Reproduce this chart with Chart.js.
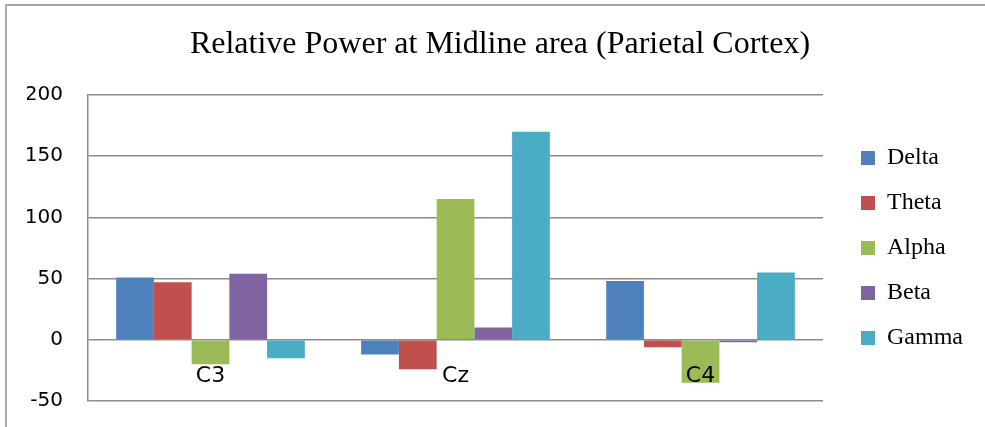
<!DOCTYPE html>
<html>
<head>
<meta charset="utf-8">
<script src="https://cdn.jsdelivr.net/npm/chart.js@4/dist/chart.umd.min.js"></script>
<style>
  html, body { margin: 0; padding: 0; background: #fff; }
</style>
</head>
<body>
<canvas id="chart" width="985" height="427"></canvas>
<script>
const categories = ['C3', 'Cz', 'C4'];
const delta = [51, -12, 48];
const theta = [47, -24, -6];
const alpha = [-20, 115, -35];
const beta = [54, 10, -2];
const gamma = [-15, 170, 55];
const yTicks = [-50, 0, 50, 100, 150, 200];

const gridGray = '#8c8c8c';

// outer frame of the chart object (only top and left edges show)
const framePlugin = {
    id: 'frame',
    beforeDraw(chart) {
        const ctx = chart.ctx;
        ctx.save();
        ctx.strokeStyle = gridGray;
        ctx.lineWidth = 1.5;
        ctx.beginPath();
        ctx.moveTo(6, chart.height);
        ctx.lineTo(6, 5);
        ctx.lineTo(chart.width, 5);
        ctx.stroke();
        ctx.restore();
    }
};

function series(label, data, color) {
    return { label: label, data: data, backgroundColor: color, borderWidth: 0 };
}

new Chart(document.getElementById('chart'), {
    type: 'bar',
    data: {
        labels: categories,
        datasets: [
            series('Delta', delta, '#4F81BD'),
            series('Theta', theta, '#C0504D'),
            series('Alpha', alpha, '#9BBB59'),
            series('Beta', beta, '#8064A2'),
            series('Gamma', gamma, '#4BACC6')
        ]
    },
    options: {
        responsive: false,
        animation: false,
        devicePixelRatio: 1,
        layout: { padding: { left: 27, right: 12, top: 0, bottom: 26 } },
        datasets: { bar: { barPercentage: 1, categoryPercentage: 0.77 } },
        scales: {
            x: {
                position: { y: 0 },
                afterFit(scale) {
                    scale.height = 0;
                    scale.paddingTop = 0;
                    scale.paddingBottom = 0;
                },
                grid: { display: false, drawTicks: false },
                border: { display: false },
                ticks: {
                    z: 1,
                    color: '#000',
                    padding: 23,
                    font: { family: 'DejaVu Sans', size: 22 }
                }
            },
            y: {
                min: -50,
                max: 200,
                afterBuildTicks(scale) {
                    scale.ticks = yTicks.map(v => ({ value: v }));
                },
                afterFit(scale) {
                    scale.width = 61;
                    scale.paddingTop = 0;
                    scale.paddingBottom = 0;
                },
                grid: { color: gridGray, lineWidth: 1.5, drawTicks: false },
                border: { display: true, color: gridGray, width: 1.5 },
                ticks: {
                    color: '#000',
                    padding: 25,
                    font: { family: 'DejaVu Sans', size: 20 }
                }
            },
            y2: {
                position: 'right',
                display: true,
                grid: { display: false, drawTicks: false },
                border: { display: false },
                ticks: { display: false },
                afterFit(scale) { scale.width = 17; }
            }
        },
        plugins: {
            title: {
                display: true,
                text: 'Relative Power at Midline area (Parietal Cortex)',
                color: '#000',
                font: { family: 'Liberation Serif', size: 32, weight: 'normal' },
                padding: { top: 25, bottom: 31.6 }
            },
            legend: {
                position: 'right',
                fullSize: false,
                labels: {
                    color: '#000',
                    boxWidth: 14,
                    boxHeight: 14,
                    padding: 21,
                    font: { family: 'Liberation Serif', size: 24 }
                }
            },
            tooltip: { enabled: false }
        }
    },
    plugins: [framePlugin]
});
</script>
</body>
</html>
